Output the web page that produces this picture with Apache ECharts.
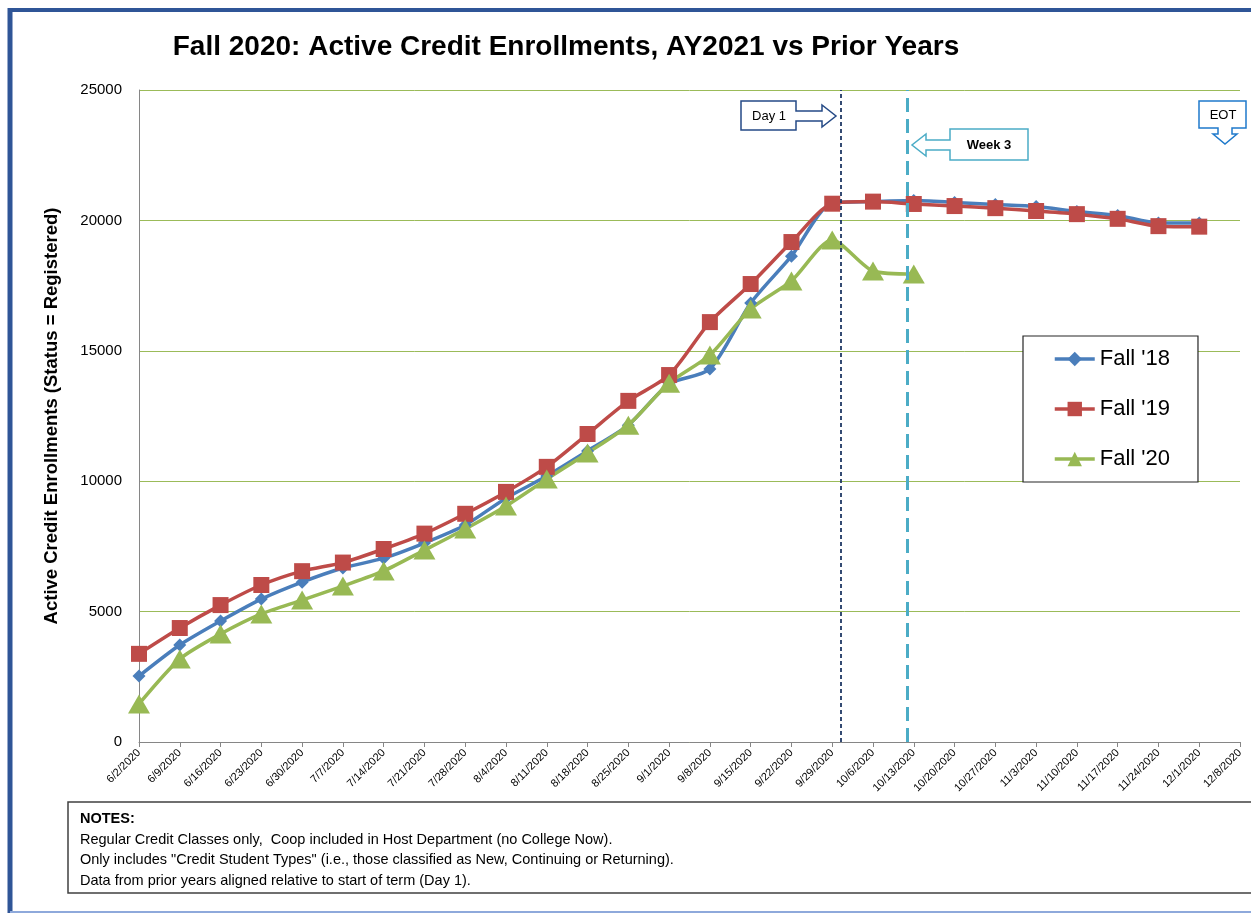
<!DOCTYPE html>
<html>
<head>
<meta charset="utf-8">
<script src="https://cdn.jsdelivr.net/npm/echarts@6/dist/echarts.min.js"></script>
<style>
html,body{margin:0;padding:0;background:#fff;}
#chart{width:1251px;height:915px;}
</style>
</head>
<body>
<div id="chart"></div>
<script>
var categories = ['6/2/2020','6/9/2020','6/16/2020','6/23/2020','6/30/2020','7/7/2020','7/14/2020','7/21/2020','7/28/2020','8/4/2020','8/11/2020','8/18/2020','8/25/2020','9/1/2020','9/8/2020','9/15/2020','9/22/2020','9/29/2020','10/6/2020','10/13/2020','10/20/2020','10/27/2020','11/3/2020','11/10/2020','11/17/2020','11/24/2020','12/1/2020','12/8/2020'];
var fall18 = [2530,3720,4640,5480,6130,6670,7050,7630,8320,9350,10200,11160,12150,13730,14300,16830,18630,20660,20720,20760,20690,20610,20530,20340,20190,19900,19900];
var fall19 = [3380,4370,5250,6020,6550,6880,7400,7990,8750,9590,10550,11810,13080,14070,16100,17560,19170,20640,20720,20630,20550,20470,20360,20240,20060,19780,19760];
var fall20 = [1460,3180,4140,4910,5440,5980,6560,7360,8170,9050,10080,11080,12150,13760,14840,16600,17680,19250,18060,17940];
var yTicks = {min:0, max:25000, interval:5000};
var day1Pos = 17.2;   // Day 1 marker position (category index units)
var week3Pos = 18.84; // Week 3 marker position
var titleText = 'Fall 2020: Active Credit Enrollments, AY2021 vs Prior Years';
var yName = 'Active Credit Enrollments (Status = Registered)';
var notes = ['NOTES:',
  'Regular Credit Classes only,  Coop included in Host Department (no College Now).',
  'Only includes "Credit Student Types" (i.e., those classified as New, Continuing or Returning).',
  'Data from prior years aligned relative to start of term (Day 1).'];

var FONT = 'Liberation Sans, Arial, sans-serif';
var chart = echarts.init(document.getElementById('chart'));
var option = {
  backgroundColor:'#fff',
  animation:false,
  textStyle:{fontFamily:FONT},
  grid:{left:139, right:11, top:90, bottom:173, containLabel:false},
  legend:{
    orient:'vertical', left:1023, top:336,
    padding:[12,28,12,30], itemGap:28, itemWidth:40, itemHeight:18,
    borderColor:'#262626', borderWidth:1.2, backgroundColor:'#fff',
    lineStyle:{width:3.5},
    textStyle:{fontSize:22, color:'#000', fontFamily:FONT},
    data:["Fall '18","Fall '19","Fall '20"]
  },
  xAxis:[{
    type:'category', data:categories, boundaryGap:false,
    axisLine:{lineStyle:{color:'#868686', width:1}},
    axisTick:{show:true, length:5, lineStyle:{color:'#868686'}, interval:0},
    axisLabel:{rotate:45, interval:0, fontSize:11, color:'#000', margin:9, fontFamily:FONT}
  },{
    type:'value', min:0, max:27, show:false
  }],
  yAxis:{
    type:'value', min:yTicks.min, max:yTicks.max, interval:yTicks.interval,
    name:yName, nameLocation:'middle', nameGap:78, nameRotate:90,
    nameTextStyle:{fontSize:18.5, fontWeight:'bold', color:'#000', fontFamily:FONT},
    axisLine:{show:true, lineStyle:{color:'#868686', width:1}},
    axisTick:{show:false},
    axisLabel:{fontSize:15, color:'#000', margin:17, fontFamily:FONT, formatter:function(v){return String(v);}},
    splitLine:{lineStyle:{color:'#9BBB59', width:1}}
  },
  series:[
    {name:"Fall '18", type:'line', data:fall18, smooth:0.25, symbol:'diamond', symbolSize:13,
     lineStyle:{color:'#4A7EBB', width:3.5}, itemStyle:{color:'#4A7EBB'}},
    {name:"Fall '19", type:'line', data:fall19, smooth:0.25, symbol:'rect', symbolSize:16,
     lineStyle:{color:'#BE4B48', width:3.5}, itemStyle:{color:'#BE4B48'}},
    {name:"Fall '20", type:'line', data:fall20, smooth:0.25, symbol:'triangle', symbolSize:[22,19],
     lineStyle:{color:'#98B954', width:3.5}, itemStyle:{color:'#98B954'}},
    {name:'markers', type:'line', xAxisIndex:1, data:[], silent:true,
     markLine:{symbol:'none', silent:true, label:{show:false},
       data:[
         {xAxis:day1Pos, lineStyle:{color:'#1F3864', width:1.8, type:[4,3]}},
         {xAxis:week3Pos, lineStyle:{color:'#4BACC6', width:3, type:[14,7]}}
       ]}}
  ],
  graphic:[
    {type:'line', shape:{x1:10,y1:10,x2:1251,y2:10}, style:{stroke:'#2F5597', lineWidth:4}},
    {type:'line', shape:{x1:10,y1:8,x2:10,y2:913}, style:{stroke:'#2F5597', lineWidth:5}},
    {type:'line', shape:{x1:10,y1:912,x2:1251,y2:912}, style:{stroke:'#8EA9DB', lineWidth:2}},
    {type:'text', style:{text:titleText, x:566, y:47, textAlign:'center', textVerticalAlign:'middle', font:'bold 28px '+FONT, fill:'#000'}},
    {type:'polygon', shape:{points:[[741,101],[796,101],[796,111],[822,111],[822,105],[836,116],[822,127],[822,121],[796,121],[796,130],[741,130]]},
     style:{fill:'#fff', stroke:'#254A86', lineWidth:1.5}},
    {type:'text', style:{text:'Day 1', x:769, y:116, textAlign:'center', textVerticalAlign:'middle', font:'13px '+FONT, fill:'#000'}},
    {type:'polygon', shape:{points:[[1028,129],[1028,160],[950,160],[950,150],[926,150],[926,156],[912,145],[926,134],[926,140],[950,140],[950,129]]},
     style:{fill:'#fff', stroke:'#4BACC6', lineWidth:1.5}},
    {type:'text', style:{text:'Week 3', x:989, y:145, textAlign:'center', textVerticalAlign:'middle', font:'bold 13px '+FONT, fill:'#000'}},
    {type:'polygon', shape:{points:[[1199,101],[1246,101],[1246,128],[1232,128],[1232,134],[1237,134],[1225,144],[1213,134],[1218,134],[1218,128],[1199,128]]},
     style:{fill:'#fff', stroke:'#1F7ACB', lineWidth:1.5}},
    {type:'text', style:{text:'EOT', x:1223, y:115, textAlign:'center', textVerticalAlign:'middle', font:'13px '+FONT, fill:'#000'}},
    {type:'rect', shape:{x:68, y:802, width:1200, height:91}, style:{fill:'#fff', stroke:'#404040', lineWidth:1.5}},
    {type:'text', style:{text:notes[0], x:80, y:819, textVerticalAlign:'middle', font:'bold 14.5px '+FONT, fill:'#000'}},
    {type:'text', style:{text:notes[1], x:80, y:840, textVerticalAlign:'middle', font:'14.5px '+FONT, fill:'#000'}},
    {type:'text', style:{text:notes[2], x:80, y:860, textVerticalAlign:'middle', font:'14.5px '+FONT, fill:'#000'}},
    {type:'text', style:{text:notes[3], x:80, y:881, textVerticalAlign:'middle', font:'14.5px '+FONT, fill:'#000'}}
  ]
};
chart.setOption(option);
</script>
</body>
</html>
